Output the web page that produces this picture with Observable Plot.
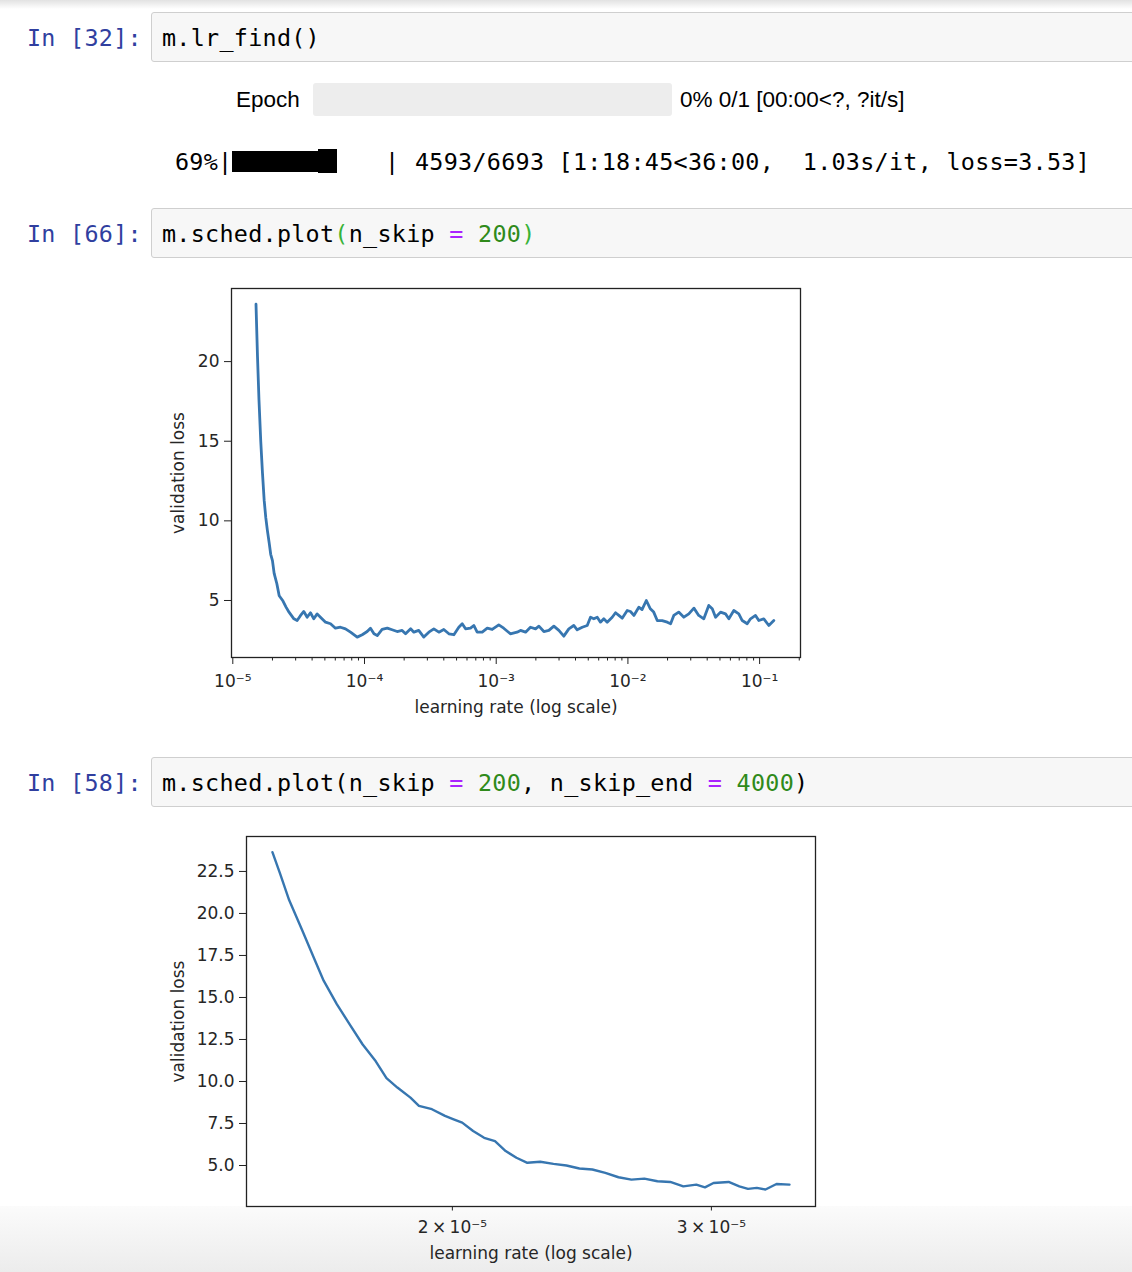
<!DOCTYPE html>
<html><head><meta charset="utf-8">
<script src="https://cdn.jsdelivr.net/npm/d3@7"></script>
<script src="https://cdn.jsdelivr.net/npm/@observablehq/plot@0.6"></script>
<style>
html,body{margin:0;padding:0;background:#fff;}
#page{position:relative;width:1132px;height:1272px;overflow:hidden;background:#fff;}
.abs{position:absolute;white-space:pre;}
.mono{font-family:"DejaVu Sans Mono",monospace;font-size:23.4px;letter-spacing:0.28px;}
.prompt{color:#303F9F;}
.cell{position:absolute;left:151px;width:1000px;height:48px;background:#f7f7f7;border:1px solid #cfcfcf;border-radius:3px;}
.sans{font-family:"Liberation Sans",Arial,sans-serif;font-size:22.5px;color:#000;}
.op{color:#AA22FF;} .num{color:#2f8a1a;} .br{color:#38b338;}
#topfade{position:absolute;left:0;top:0;width:1132px;height:9px;background:linear-gradient(#e2e2e2,#ffffff);}
#botfade{position:absolute;left:0;top:1206px;width:1132px;height:66px;background:linear-gradient(#fbfbfb,#ececec);}
.chart{position:absolute;}
</style></head>
<body><div id="page">
<div id="topfade"></div>
<div id="botfade"></div>

<div class="abs mono prompt" style="left:27px;top:13px;line-height:50px;">In [32]:</div>
<div class="cell" style="top:12px;"></div>
<div class="abs mono" style="left:162px;top:13px;line-height:50px;">m.lr_find()</div>

<div class="abs sans" style="left:236px;top:84px;line-height:32px;">Epoch</div>
<div class="abs" style="left:313px;top:83px;width:359px;height:33px;background:#ededed;border-radius:3px;"></div>
<div class="abs sans" style="left:680px;top:84px;line-height:32px;">0% 0/1 [00:00&lt;?, ?it/s]</div>

<div class="abs mono" style="left:175px;top:146px;line-height:32px;">69%|</div>
<div class="abs" style="left:232px;top:151px;width:87px;height:21px;background:#000;"></div>
<div class="abs" style="left:318px;top:149px;width:19px;height:24px;background:#000;"></div>
<div class="abs mono" style="left:385px;top:146px;line-height:32px;">|</div>
<div class="abs mono" style="left:415px;top:146px;line-height:32px;">4593/6693 [1:18:45&lt;36:00,  1.03s/it, loss=3.53]</div>

<div class="abs mono prompt" style="left:27px;top:209px;line-height:50px;">In [66]:</div>
<div class="cell" style="top:208px;"></div>
<div class="abs mono" style="left:162px;top:209px;line-height:50px;">m.sched.plot<span class="br">(</span>n_skip <span class="op">=</span> <span class="num">200</span><span class="br">)</span></div>

<div class="abs mono prompt" style="left:27px;top:758px;line-height:50px;">In [58]:</div>
<div class="cell" style="top:757px;"></div>
<div class="abs mono" style="left:162px;top:758px;line-height:50px;">m.sched.plot(n_skip <span class="op">=</span> <span class="num">200</span>, n_skip_end <span class="op">=</span> <span class="num">4000</span>)</div>

<div id="chart1" class="chart" style="left:150px;top:270px;"></div>
<div id="chart2" class="chart" style="left:150px;top:820px;"></div>
</div>
<script>
// ---- Chart 1: m.sched.plot(n_skip = 200) ----
const lr1 = [1.50e-5,1.54e-5,1.58e-5,1.63e-5,1.68e-5,1.73e-5,1.78e-5,1.83e-5,1.89e-5,1.94e-5,2.00e-5,2.06e-5,2.16e-5,2.25e-5,2.39e-5,2.53e-5,2.68e-5,2.91e-5,3.08e-5,3.27e-5,3.46e-5,3.67e-5,3.89e-5,4.12e-5,4.37e-5,4.63e-5,5.06e-5,5.52e-5,6.02e-5,6.57e-5,7.17e-5,7.83e-5,8.80e-5,9.61e-5,1.048e-4,1.11e-4,1.18e-4,1.25e-4,1.36e-4,1.49e-4,1.62e-4,1.77e-4,1.93e-4,2.05e-4,2.24e-4,2.37e-4,2.58e-4,2.82e-4,3.08e-4,3.36e-4,3.67e-4,4.00e-4,4.37e-4,4.77e-4,5.20e-4,5.52e-4,5.85e-4,6.38e-4,6.76e-4,7.17e-4,7.83e-4,8.55e-4,9.32e-4,1.046e-3,1.14e-3,1.28e-3,1.44e-3,1.53e-3,1.67e-3,1.82e-3,1.99e-3,2.11e-3,2.30e-3,2.51e-3,2.74e-3,2.99e-3,3.26e-3,3.56e-3,3.88e-3,4.12e-3,4.50e-3,4.91e-3,5.20e-3,5.51e-3,5.85e-3,6.19e-3,6.56e-3,6.96e-3,7.60e-3,8.05e-3,8.53e-3,9.05e-3,9.88e-3,1.046e-2,1.11e-2,1.21e-2,1.28e-2,1.38e-2,1.48e-2,1.57e-2,1.67e-2,1.82e-2,1.99e-2,2.11e-2,2.23e-2,2.43e-2,2.66e-2,2.90e-2,3.17e-2,3.45e-2,3.77e-2,4.11e-2,4.37e-2,4.63e-2,5.05e-2,5.51e-2,5.84e-2,6.37e-2,6.95e-2,7.38e-2,8.05e-2,8.53e-2,9.31e-2,9.86e-2,0.1076,0.1175,0.1282];
const loss1 = [23.6,20.3,17.6,15.0,13.0,11.3,10.2,9.4,8.6,7.9,7.5,6.7,6.05,5.3,5.0,4.6,4.25,3.85,3.74,4.06,4.31,3.95,4.23,3.85,4.16,3.95,3.64,3.54,3.26,3.32,3.22,3.01,2.70,2.85,3.05,3.26,2.91,2.80,3.18,3.26,3.16,3.05,3.12,2.91,3.22,3.01,3.12,2.70,3.01,3.22,3.01,3.18,2.91,2.85,3.32,3.54,3.22,3.26,3.43,3.01,3.01,3.26,3.18,3.47,3.26,2.91,3.01,3.12,3.01,3.32,3.22,3.39,3.05,3.12,3.39,3.12,2.76,3.22,3.43,3.16,3.32,3.43,3.95,3.85,3.95,3.64,3.85,3.64,3.95,4.23,4.06,3.89,4.37,4.31,4.06,4.58,4.43,5.0,4.48,4.27,3.74,3.74,3.64,3.54,4.06,4.27,3.95,4.16,4.52,4.06,3.85,4.69,4.48,3.95,4.27,4.16,3.85,4.37,4.16,3.74,3.54,3.85,4.06,3.74,3.85,3.43,3.74];
const xMajor1 = [1e-5,1e-4,1e-3,1e-2,1e-1];
const xMajorLabels1 = ["10⁻⁵","10⁻⁴","10⁻³","10⁻²","10⁻¹"];
const xMinor1 = [2e-5,3e-5,4e-5,5e-5,6e-5,7e-5,8e-5,9e-5,2e-4,3e-4,4e-4,5e-4,6e-4,7e-4,8e-4,9e-4,2e-3,3e-3,4e-3,5e-3,6e-3,7e-3,8e-3,9e-3,2e-2,3e-2,4e-2,5e-2,6e-2,7e-2,8e-2,9e-2,2e-1];
const yTicks1 = [5,10,15,20];

// ---- Chart 2: m.sched.plot(n_skip = 200, n_skip_end = 4000) ----
const lr2 = [1.509e-5,1.527e-5,1.549e-5,1.581e-5,1.613e-5,1.635e-5,1.669e-5,1.703e-5,1.738e-5,1.774e-5,1.804e-5,1.835e-5,1.873e-5,1.898e-5,1.937e-5,1.977e-5,2.004e-5,2.031e-5,2.066e-5,2.102e-5,2.138e-5,2.174e-5,2.211e-5,2.249e-5,2.295e-5,2.343e-5,2.391e-5,2.440e-5,2.490e-5,2.541e-5,2.594e-5,2.647e-5,2.701e-5,2.757e-5,2.813e-5,2.871e-5,2.930e-5,2.970e-5,3.010e-5,3.082e-5,3.134e-5,3.177e-5,3.221e-5,3.265e-5,3.322e-5,3.390e-5];
const loss2 = [23.65,22.39,20.8,19.0,17.2,16.0,14.6,13.4,12.2,11.2,10.2,9.64,9.04,8.55,8.35,7.95,7.75,7.55,7.05,6.65,6.45,5.86,5.46,5.16,5.22,5.1,5.0,4.82,4.76,4.56,4.30,4.16,4.22,4.06,4.02,3.76,3.86,3.70,3.96,4.02,3.76,3.61,3.67,3.57,3.90,3.86];
const xTicks2 = [2e-5,3e-5];
const xTickLabels2 = ["2\u2009×\u200910⁻⁵","3\u2009×\u200910⁻⁵"];
const yTicks2 = [5,7.5,10,12.5,15,17.5,20,22.5];

const lineColor = "#3776b0";
const axisStyle = {background:"transparent", fontFamily:"DejaVu Sans, sans-serif", fontSize:"17px", color:"#262626", overflow:"visible"};

const data1 = lr1.map((v,i)=>({lr:v, loss:loss1[i]}));
const chart1 = Plot.plot({
  width: 670, height: 460,
  marginLeft: 81, marginRight: 20, marginTop: 18, marginBottom: 73,
  style: axisStyle,
  x: {type:"log", domain:[9.774e-6, 0.2044]},
  y: {domain:[1.42, 24.59]},
  marks: [
    Plot.axisX({ticks: xMinor1, tickSize: 3.5, tickFormat: () => "", label: null, stroke:"#222"}),
    Plot.axisX({ticks: xMajor1, tickSize: 7, tickPadding: 10, stroke:"#222",
      tickFormat: d => xMajorLabels1[xMajor1.indexOf(d)],
      label: "learning rate (log scale)", labelAnchor: "center", labelOffset: 55, labelArrow: "none"}),
    Plot.axisY({ticks: yTicks1, tickSize: 7, tickPadding: 5, stroke:"#222",
      label: "validation loss", labelAnchor: "center", labelOffset: 60, labelArrow: "none"}),
    Plot.line(data1, {x:"lr", y:"loss", stroke: lineColor, strokeWidth: 2.8, strokeLinejoin:"round"}),
    Plot.frame({stroke:"#222", strokeWidth: 1.3})
  ]
});
document.getElementById("chart1").appendChild(chart1);

const data2 = lr2.map((v,i)=>({lr:v, loss:loss2[i]}));
const chart2 = Plot.plot({
  width: 690, height: 450,
  marginLeft: 96, marginRight: 25, marginTop: 16, marginBottom: 64,
  style: axisStyle,
  x: {type:"log", domain:[1.449e-5, 3.531e-5]},
  y: {domain:[2.56, 24.58]},
  marks: [
    Plot.axisX({ticks: xTicks2, tickSize: 4.5, tickPadding: 10, stroke:"#222",
      tickFormat: d => xTickLabels2[xTicks2.indexOf(d)],
      label: "learning rate (log scale)", labelAnchor: "center", labelOffset: 52, labelArrow: "none"}),
    Plot.axisY({ticks: yTicks2, tickSize: 7, tickPadding: 5, stroke:"#222",
      tickFormat: d => d.toFixed(1),
      label: "validation loss", labelAnchor: "center", labelOffset: 75, labelArrow: "none"}),
    Plot.line(data2, {x:"lr", y:"loss", stroke: lineColor, strokeWidth: 2.4, strokeLinejoin:"round"}),
    Plot.frame({stroke:"#222", strokeWidth: 1.3})
  ]
});
document.getElementById("chart2").appendChild(chart2);
</script>
</body></html>
